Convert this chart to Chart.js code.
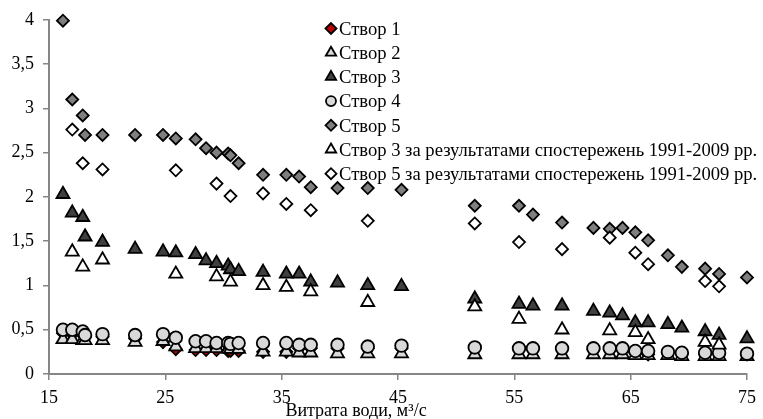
<!DOCTYPE html>
<html>
<head>
<meta charset="utf-8">
<script src="https://cdn.jsdelivr.net/npm/chart.js@4.4.0/dist/chart.umd.min.js"></script>
<style>
  html, body { margin: 0; padding: 0; background: #fff; }
  #wrap { width: 763px; height: 419px; position: relative; }
</style>
</head>
<body>
<div id="wrap"><canvas id="flow_Chart"></canvas></div>
<script>
// витрата води для всіх вимірювань, м3/с
const flow = [16.2, 17.0, 17.9, 18.1, 19.6, 22.4, 24.8, 25.9, 27.6, 28.5, 29.4, 30.4, 30.6, 31.3,
              33.4, 35.4, 36.5, 37.5, 39.8, 42.4, 45.3, 51.6, 55.4, 56.6, 59.1, 61.8, 63.2, 64.3,
              65.4, 66.5, 68.2, 69.4, 71.4, 72.6, 75.0];

const stvor1 = [0.46, 0.45, 0.44, 0.42, 0.42, 0.40, 0.36, 0.28, 0.27, 0.27, 0.27, 0.26, 0.26, 0.26,
                0.25, 0.25, 0.29, 0.29, 0.29, 0.29, 0.29, 0.29, 0.28, 0.28, 0.28, 0.28, 0.28, 0.28,
                0.24, 0.22, 0.24, 0.23, 0.23, 0.23, 0.22];
const stvor2 = [0.39, 0.39, 0.38, 0.38, 0.38, 0.36, 0.37, 0.31, 0.29, 0.29, 0.29, 0.28, 0.28, 0.28,
                0.25, 0.25, 0.24, 0.24, 0.23, 0.23, 0.23, 0.22, 0.22, 0.22, 0.22, 0.22, 0.22, 0.22,
                0.21, 0.21, 0.21, 0.20, 0.20, 0.20, 0.20];
const stvor3 = [2.03, 1.82, 1.77, 1.55, 1.49, 1.41, 1.38, 1.37, 1.35, 1.28, 1.25, 1.22, 1.18, 1.16,
                1.15, 1.13, 1.13, 1.04, 1.03, 1.00, 0.99, 0.85, 0.79, 0.77, 0.77, 0.71, 0.69, 0.66,
                0.58, 0.58, 0.56, 0.52, 0.48, 0.44, 0.40];
const stvor4 = [0.50, 0.50, 0.48, 0.44, 0.45, 0.44, 0.45, 0.41, 0.37, 0.37, 0.35, 0.35, 0.34, 0.35,
                0.35, 0.35, 0.33, 0.33, 0.33, 0.31, 0.32, 0.30, 0.29, 0.29, 0.29, 0.29, 0.29, 0.29,
                0.26, 0.26, 0.25, 0.24, 0.24, 0.24, 0.23];
const stvor5 = [3.99, 3.10, 2.92, 2.70, 2.70, 2.70, 2.70, 2.66, 2.65, 2.55, 2.50, 2.49, 2.47, 2.38,
                2.25, 2.25, 2.23, 2.11, 2.10, 2.10, 2.08, 1.90, 1.90, 1.80, 1.71, 1.65, 1.64, 1.65,
                1.60, 1.51, 1.34, 1.21, 1.19, 1.13, 1.09];

// спостереження 1991-2009 рр.
const flowHist = [17.0, 17.9, 19.6, 25.9, 29.4, 30.6, 33.4, 35.4, 37.5, 42.4, 51.6, 55.4, 59.1,
                  63.2, 65.4, 66.5, 71.4, 72.6];
const stvor3Hist = [1.38, 1.21, 1.29, 1.13, 1.10, 1.04, 1.00, 0.98, 0.93, 0.81, 0.76, 0.62, 0.50,
                    0.49, 0.47, 0.39, 0.36, 0.33];
const stvor5Hist = [2.76, 2.38, 2.31, 2.30, 2.15, 2.01, 2.04, 1.92, 1.85, 1.73, 1.70, 1.49, 1.41,
                    1.54, 1.37, 1.24, 1.05, 0.99];

const xTicks = [15, 25, 35, 45, 55, 65, 75];
const yTicks = [0, 0.5, 1, 1.5, 2, 2.5, 3, 3.5, 4];

const labels = ['Створ 1', 'Створ 2', 'Створ 3', 'Створ 4', 'Створ 5',
                'Створ 3 за результатами спостережень 1991-2009 рр.',
                'Створ 5 за результатами спостережень 1991-2009 рр.'];

const pts = (xs, ys) => xs.map((x, i) => ({ x: x, y: ys[i] }));

const series = [
    { data: pts(flow, stvor1), pointStyle: 'rectRot', fill: '#c00000', r: 6, lr: 5.5 },
    { data: pts(flow, stvor2), pointStyle: 'triangle', fill: '#d9d9d9', r: 7.5, lr: 6 },
    { data: pts(flow, stvor3), pointStyle: 'triangle', fill: '#404040', r: 7.5, lr: 6 },
    { data: pts(flow, stvor4), pointStyle: 'circle', fill: '#d9d9d9', r: 6.3, lr: 5 },
    { data: pts(flow, stvor5), pointStyle: 'rectRot', fill: '#7f7f7f', r: 6, lr: 5.5 },
    { data: pts(flowHist, stvor3Hist), pointStyle: 'triangle', fill: '#ffffff', r: 7.5, lr: 6 },
    { data: pts(flowHist, stvor5Hist), pointStyle: 'rectRot', fill: '#ffffff', r: 6, lr: 5.5 }
];

const SERIF = '"Liberation Serif", "Times New Roman", serif';

// легенда всередині поля графіка
const insideLegend = {
    id: 'insideLegend',
    afterDraw(chart) {
        const ctx = chart.ctx;
        ctx.save();
        ctx.font = '18.6px ' + SERIF;
        ctx.textBaseline = 'middle';
        chart.data.datasets.forEach((ds, i) => {
            const y = 28.5 + i * 24.2;
            ctx.lineWidth = 1.8;
            ctx.strokeStyle = '#000';
            ctx.fillStyle = ds.backgroundColor;
            Chart.helpers.drawPoint(ctx, {
                pointStyle: ds.pointStyle, radius: ds.legendRadius, rotation: 0, borderWidth: 1.8
            }, 331, y);
            ctx.fillStyle = '#000';
            ctx.fillText(ds.label, 339, y + 1.5);
        });
        ctx.restore();
    }
};

// підпис осі X
const axisTitle = {
    id: 'axisTitle',
    afterDraw(chart) {
        const ctx = chart.ctx;
        ctx.save();
        ctx.font = '18px ' + SERIF;
        ctx.fillStyle = '#000';
        ctx.textAlign = 'center';
        ctx.textBaseline = 'alphabetic';
        ctx.fillText('Витрата води, м³/с', 356, 416);
        ctx.restore();
    }
};

const n = series.length;
const datasets = series.map((s, i) => ({
    label: labels[i],
    data: s.data,
    pointStyle: s.pointStyle,
    backgroundColor: s.fill,
    borderColor: '#000',
    borderWidth: 1.8,
    pointRadius: s.r,
    pointHoverRadius: s.r,
    legendRadius: s.lr,
    order: n - i,
    clip: false
}));

const axisGrey = '#868686';

const config = {
    type: 'scatter',
    data: { datasets: datasets },
    options: {
        responsive: true,
        maintainAspectRatio: false,
        animation: false,
        layout: { padding: { left: 0, right: 15, top: 17, bottom: 0 } },
        plugins: {
            legend: { display: false },
            tooltip: { enabled: false }
        },
        scales: {
            x: {
                type: 'linear',
                min: 15,
                max: 75,
                afterBuildTicks: s => { s.ticks = xTicks.map(v => ({ value: v })); },
                afterFit: s => { s.height = 45; },
                grid: { display: true, drawOnChartArea: false, drawTicks: true, tickLength: 6, color: axisGrey, lineWidth: 1.5 },
                border: { display: true, color: axisGrey, width: 2 },
                ticks: {
                    padding: 7,
                    color: '#000',
                    font: { family: SERIF, size: 18 },
                    maxRotation: 0,
                    callback: v => String(v)
                }
            },
            y: {
                type: 'linear',
                min: 0,
                max: 4,
                afterBuildTicks: s => { s.ticks = yTicks.map(v => ({ value: v })); },
                afterFit: s => { s.width = 49; },
                grid: { display: true, drawOnChartArea: false, drawTicks: true, tickLength: 6, color: axisGrey, lineWidth: 1.5 },
                border: { display: true, color: axisGrey, width: 2 },
                ticks: {
                    padding: 9,
                    color: '#000',
                    font: { family: SERIF, size: 18 },
                    callback: v => String(v).replace('.', ',')
                }
            }
        }
    },
    plugins: [insideLegend, axisTitle]
};

const flowChart = new Chart(document.getElementById('flow_Chart').getContext('2d'), config);
</script>
</body>
</html>
